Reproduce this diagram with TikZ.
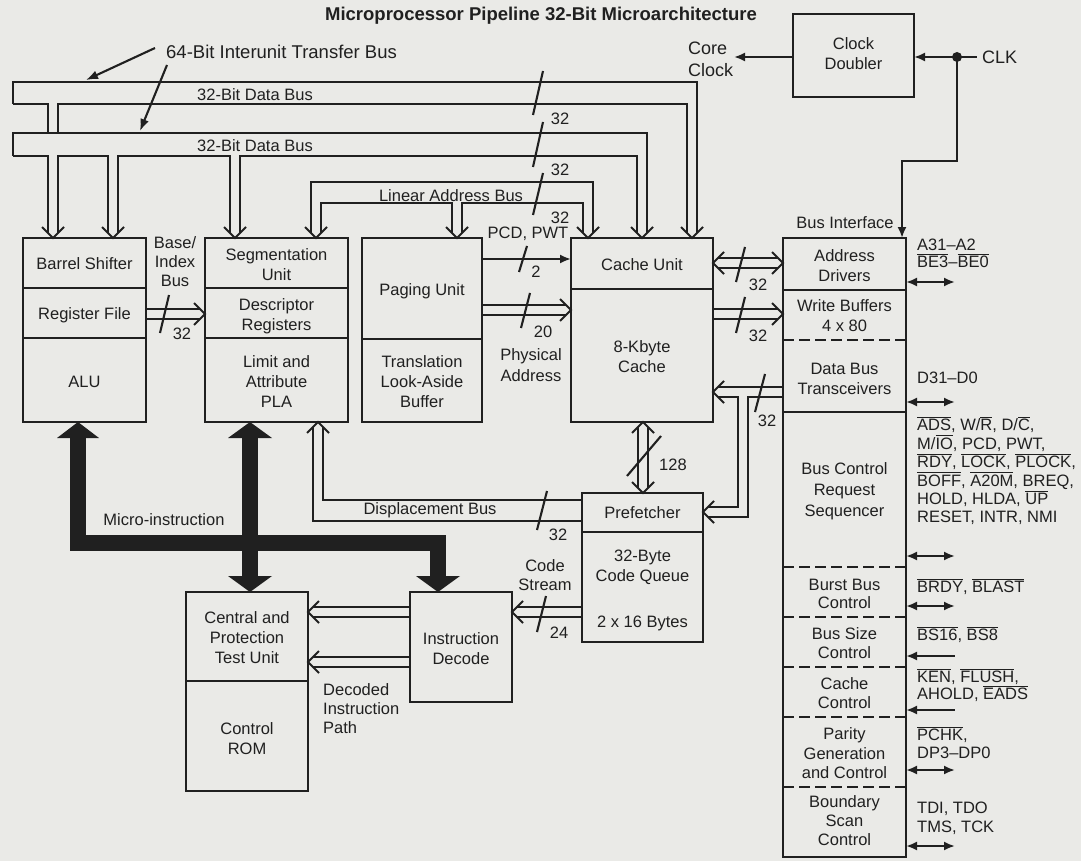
\documentclass[tikz,border=0pt]{standalone}
\usepackage{fontspec}
\setmainfont{Liberation Sans}
\usetikzlibrary{arrows.meta}
\definecolor{ink}{RGB}{32,32,32}
\definecolor{paper}{RGB}{234,234,231}
\newcommand\fs{\fontsize{16.5}{20}\selectfont}
\newcommand\myovl[1]{\setbox0\hbox{#1}\rlap{\rule[\dimexpr\ht0+1.4pt\relax]{\wd0}{0.9pt}}\box0}
\newcommand\chevD[2]{\draw[ln] (#1-11,#2-11) -- (#1,#2) -- (#1+11,#2-11);}
\newcommand\chevU[2]{\draw[ln] (#1-11,#2+11) -- (#1,#2) -- (#1+11,#2+11);}
\newcommand\chevL[2]{\draw[ln] (#1+11,#2-11) -- (#1,#2) -- (#1+11,#2+11);}
\newcommand\chevR[2]{\draw[ln] (#1-11,#2-11) -- (#1,#2) -- (#1-11,#2+11);}
\tikzset{
 ln/.style={draw=ink, line width=2.1pt},
 box/.style={draw=ink, line width=2.1pt, inner sep=0pt, outer sep=0pt, anchor=north west},
 lbl/.style={text=ink, font=\fs, align=center, inner sep=0pt},
 arr/.style={ln, -{Latex[length=11pt,width=9pt]}},
 larr/.style={ln, {Latex[length=11pt,width=9pt]}-},
 darr/.style={ln, {Latex[length=11pt,width=9pt]}-{Latex[length=11pt,width=9pt]}},
 dsh/.style={draw=ink, line width=2.1pt, dash pattern=on 11pt off 5pt},
}
\begin{document}
\begin{tikzpicture}[x=1pt,y=-1pt]
\fill[paper] (0,0) rectangle (1081,861);
\useasboundingbox (0,0) rectangle (1081,861);

% ---------- title and bus label
\node[lbl, font=\bfseries\fontsize{18.5}{22}\selectfont] (title) at (541,16) {Microprocessor Pipeline 32-Bit Microarchitecture};
\node[lbl, anchor=west, font=\fontsize{18.5}{22}\selectfont] (T64) at (166,52) {64-Bit Interunit Transfer Bus};
\coordinate (t1) at (155,48); \coordinate (h1) at (86,80);
\coordinate (t2) at (167,65); \coordinate (h2) at (140,131);
\draw[ln, -{Latex[length=12pt,width=9pt]}] (t1) -- (h1);
\draw[ln, -{Latex[length=12pt,width=9pt]}] (t2) -- (h2);

% ---------- boxes
\node[box, minimum width=123, minimum height=184] (A) at (23,238) {};
\node[box, minimum width=143, minimum height=184] (B) at (205,238) {};
\node[box, minimum width=120, minimum height=184] (C) at (362,238) {};
\node[box, minimum width=142, minimum height=184] (D) at (571,238) {};
\node[box, minimum width=123, minimum height=619] (BI) at (783,238) {};
\node[box, minimum width=121, minimum height=83] (CD) at (793,14) {};
\node[box, minimum width=121, minimum height=149] (PF) at (582,493) {};
\node[box, minimum width=122, minimum height=199] (CP) at (186,592) {};
\node[box, minimum width=102, minimum height=110] (ID) at (410,592) {};

% dividers
\draw[ln] (A.west |- 0,288) -- (A.east |- 0,288);
\draw[ln] (A.west |- 0,338) -- (A.east |- 0,338);
\draw[ln] (B.west |- 0,288) -- (B.east |- 0,288);
\draw[ln] (B.west |- 0,338) -- (B.east |- 0,338);
\draw[ln] (C.west |- 0,339) -- (C.east |- 0,339);
\draw[ln] (D.west |- 0,289) -- (D.east |- 0,289);
\draw[ln] (PF.west |- 0,532) -- (PF.east |- 0,532);
\draw[ln] (CP.west |- 0,681) -- (CP.east |- 0,681);
\draw[ln] (BI.west |- 0,290) -- (BI.east |- 0,290);
\draw[ln] (BI.west |- 0,412) -- (BI.east |- 0,412);
\foreach \yy in {340,567,617,667,717,787}
  \draw[dsh] (BI.west |- 0,\yy) -- (BI.east |- 0,\yy);

% ---------- box texts
\node[lbl] (tA1) at (84.5,264) {Barrel Shifter};
\node[lbl] (tA2) at (84.5,315) {Register File};
\node[lbl] (tA3) at (84.5,382) {ALU};
\node[lbl] (tB1) at (276.5,265) {Segmentation\\Unit};
\node[lbl] (tB2) at (276.5,316) {Descriptor\\Registers};
\node[lbl] (tB3) at (276.5,382) {Limit and\\Attribute\\PLA};
\node[lbl] (tC1) at (422,291) {Paging Unit};
\node[lbl] (tC2) at (422,382) {Translation\\Look-Aside\\Buffer};
\node[lbl] (tD1) at (642,265) {Cache Unit};
\node[lbl] (tD2) at (642,357) {8-Kbyte\\Cache};
\node[lbl] (tPF1) at (642.5,513) {Prefetcher};
\node[lbl] (tPF2) at (642.5,567) {32-Byte\\Code Queue};
\node[lbl] (tPF3) at (642.5,623) {2 x 16 Bytes};
\node[lbl] (tCP1) at (247,637.5) {Central and\\Protection\\Test Unit};
\node[lbl] (tCP2) at (247,739) {Control\\ROM};
\node[lbl] (tID) at (461,649) {Instruction\\Decode};
\node[lbl] (tCD) at (853.5,53.5) {Clock\\Doubler};
\node[lbl] (tBI) at (845,223) {Bus Interface};
\node[lbl] (tE1) at (844.5,266) {Address\\Drivers};
\node[lbl] (tE2) at (844.5,316) {Write Buffers\\4 x 80};
\node[lbl] (tE3) at (844.5,378.5) {Data Bus\\Transceivers};
\node[lbl, font=\fontsize{16.5}{21}\selectfont] (tE4) at (844.5,491.5) {Bus Control\\Request\\Sequencer};
\node[lbl, font=\fontsize{16.5}{18.5}\selectfont] (tE5) at (844.5,594) {Burst Bus\\Control};
\node[lbl, font=\fontsize{16.5}{19}\selectfont] (tE6) at (844.5,643.5) {Bus Size\\Control};
\node[lbl, font=\fontsize{16.5}{19}\selectfont] (tE7) at (844.5,693.5) {Cache\\Control};
\node[lbl, font=\fontsize{16.5}{19.5}\selectfont] (tE8) at (844.5,753.5) {Parity\\Generation\\and Control};
\node[lbl, font=\fontsize{16.5}{19}\selectfont] (tE9) at (844.5,821) {Boundary\\Scan\\Control};

% ---------- top buses
\draw[ln] (13,104) -- (13,82) -- (697,82) -- (697,233);
\draw[ln] (13,104) -- (48,104) -- (48,133);
\draw[ln] (58,133) -- (58,104) -- (687,104) -- (687,233);
\chevD{692}{238}
\draw[ln] (13,156) -- (13,133) -- (647,133) -- (647,233);
\draw[ln] (13,156) -- (48,156) -- (48,233);
\draw[ln] (58,233) -- (58,156) -- (108,156) -- (108,233);
\draw[ln] (118,233) -- (118,156) -- (230,156) -- (230,233);
\draw[ln] (240,233) -- (240,156) -- (637,156) -- (637,233);
\chevD{53}{238} \chevD{113}{238} \chevD{235}{238} \chevD{642}{238}
\draw[ln] (311,233) -- (311,182) -- (593,182) -- (593,233);
\draw[ln] (321,233) -- (321,203) -- (452,203) -- (452,233);
\draw[ln] (462,233) -- (462,203) -- (583,203) -- (583,233);
\chevD{316}{238} \chevD{457}{238} \chevD{588}{238}
\node[lbl] (b1l) at (255,95) {32-Bit Data Bus};
\node[lbl] (b2l) at (255,146) {32-Bit Data Bus};
\node[lbl] (lal) at (451,195.5) {Linear Address Bus};
\draw[ln] (533,115) -- (543,71);
\draw[ln] (533,167) -- (543,122);
\draw[ln] (533,215) -- (543,173);
\node[lbl] (n1) at (560,119) {32};
\node[lbl] (n2) at (560,170) {32};
\node[lbl] (n3) at (560,218) {32};

% ---------- Base/Index bus
\draw[ln] (A.east |- 0,309) -- (200,309);
\draw[ln] (A.east |- 0,319) -- (200,319);
\chevR{205}{314}
\draw[ln] (160,333) -- (169,295);
\node[lbl] (n4) at (182,334) {32};
\node[lbl, font=\fontsize{16.5}{19}\selectfont] (bil) at (175,262) {Base/\\Index\\Bus};

% ---------- Paging -> Cache
\draw[arr] (C.east |- 0,259) -- (D.west |- 0,259);
\draw[ln] (519,272) -- (527,246);
\node[lbl] (n5) at (536,272) {2};
\node[lbl] (pcd) at (528,234) {PCD, PWT};
\draw[ln] (C.east |- 0,305) -- (566,305);
\draw[ln] (C.east |- 0,315) -- (566,315);
\chevR{571}{310}
\draw[ln] (521,328) -- (530,293);
\node[lbl] (n6) at (543,332) {20};
\node[lbl, font=\fontsize{16.5}{21}\selectfont] (phy) at (531,365.5) {Physical\\Address};

% ---------- Cache <-> Bus interface
\draw[ln] (718,258) -- (778,258);
\draw[ln] (718,268) -- (778,268);
\chevL{713}{263} \chevR{783}{263}
\draw[ln] (736,282) -- (745,247);
\node[lbl] (n7) at (758,285) {32};
\draw[ln] (D.east |- 0,309) -- (778,309);
\draw[ln] (D.east |- 0,319) -- (778,319);
\chevR{783}{314}
\draw[ln] (736,333) -- (745,297);
\node[lbl] (n8) at (758,336) {32};
% data bus
\draw[ln] (718,387) -- (BI.west |- 0,387);
\draw[ln] (718,397) -- (738,397) -- (738,507) -- (708,507);
\draw[ln] (BI.west |- 0,397) -- (748,397) -- (748,517) -- (708,517);
\chevL{713}{392} \chevL{703}{512}
\draw[ln] (755,412) -- (765,374);
\node[lbl] (n9) at (767,421) {32};

% ---------- Cache <-> Prefetcher 128
\draw[ln] (638,427) -- (638,488);
\draw[ln] (648,427) -- (648,488);
\chevU{643}{422} \chevD{643}{493}
\draw[ln] (627,476) -- (661,436);
\node[lbl] (n10) at (673,465) {128};

% ---------- Displacement bus
\draw[ln] (PF.west |- 0,500) -- (323,500) -- (323,427);
\draw[ln] (PF.west |- 0,521) -- (313,521) -- (313,427);
\chevU{318}{422}
\node[lbl] (dbl) at (430,510) {Displacement Bus};
\draw[ln] (537,530) -- (547,491);
\node[lbl] (n11) at (558,535) {32};

% ---------- Code stream
\draw[ln] (PF.west |- 0,607) -- (517,607);
\draw[ln] (PF.west |- 0,617) -- (517,617);
\chevL{512}{612}
\draw[ln] (537,632) -- (546,596);
\node[lbl] (n12) at (559,633) {24};
\node[lbl, font=\fontsize{16.5}{19}\selectfont] (csl) at (545,575.5) {Code\\Stream};

% ---------- Decoded instruction paths
\draw[ln] (ID.west |- 0,607) -- (313,607);
\draw[ln] (ID.west |- 0,617) -- (313,617);
\chevL{308}{612}
\draw[ln] (ID.west |- 0,657) -- (313,657);
\draw[ln] (ID.west |- 0,667) -- (313,667);
\chevL{308}{662}
\node[lbl, anchor=west, align=left, font=\fontsize{16.5}{19}\selectfont] (dip) at (323,709) {Decoded\\Instruction\\Path};

% ---------- Micro-instruction bus
\fill[ink] (70,437) rectangle (86,551);
\fill[ink] (70,535) rectangle (446,551);
\fill[ink] (242,437) rectangle (258,577);
\fill[ink] (430,535) rectangle (446,577);
\fill[ink] (57,438) -- (78,422) -- (99,438) -- cycle;
\fill[ink] (228,438) -- (250,422) -- (272,438) -- cycle;
\fill[ink] (228,576) -- (250,592) -- (272,576) -- cycle;
\fill[ink] (416,576) -- (438,592) -- (460,576) -- cycle;
\node[lbl] (mil) at (164,520) {Micro-instruction};

% ---------- clock
\coordinate (dot) at (957,57);
\fill[ink] (dot) circle (5pt);
\draw[arr] (dot) -- (CD.east |- dot);
\coordinate (clkend) at (977,57);
\draw[ln] (dot) -- (clkend);
\node[lbl, anchor=west, font=\fontsize{18}{22}\selectfont] (clk) at (982,57) {CLK};
\draw[arr] (dot) -- (957,161) -- (902,161) -- (BI.north -| 902,0);
\coordinate (ccend) at (734,57);
\draw[arr] (CD.west |- 0,57) -- (ccend);
\node[lbl, anchor=west, align=left, font=\fontsize{18}{22}\selectfont] (cc) at (688,59) {Core\\Clock};

% ---------- bus interface signals
\foreach \yy/\ty in {282/darr,402/darr,556/darr,606/darr,656/larr,710/larr,770/darr,846/darr}
  \draw[\ty] (BI.east |- 0,\yy) -- (955,\yy);
\node[lbl, anchor=west, align=left, font=\fontsize{16.5}{17.5}\selectfont] (s1) at (917,253.5) {A31--A2\\\myovl{BE3}--\myovl{BE0}};
\node[lbl, anchor=west, align=left] (s2) at (917,378) {D31--D0};
\node[lbl, anchor=west, align=left, font=\fontsize{16.5}{18.4}\selectfont] (s3) at (917,471) {\myovl{ADS}, W/\myovl{R}, D/\myovl{C},\\M/\myovl{IO}, PCD, PWT,\\\myovl{RDY}, \myovl{LOCK}, \myovl{PLOCK},\\\myovl{BOFF}, \myovl{A20M}, BREQ,\\HOLD, HLDA, \myovl{UP}\\RESET, INTR, NMI};
\node[lbl, anchor=west, align=left] (s4) at (917,587) {\myovl{BRDY}, \myovl{BLAST}};
\node[lbl, anchor=west, align=left] (s5) at (917,635) {\myovl{BS16}, \myovl{BS8}};
\node[lbl, anchor=west, align=left, font=\fontsize{16.5}{17}\selectfont] (s6) at (917,685) {\myovl{KEN}, \myovl{FLUSH},\\AHOLD, \myovl{EADS}};
\node[lbl, anchor=west, align=left, font=\fontsize{16.5}{18}\selectfont] (s7) at (917,743) {\myovl{PCHK},\\DP3--DP0};
\node[lbl, anchor=west, align=left, font=\fontsize{16.5}{19}\selectfont] (s8) at (917,818.5) {TDI, TDO\\TMS, TCK};
\end{tikzpicture}
\end{document}
